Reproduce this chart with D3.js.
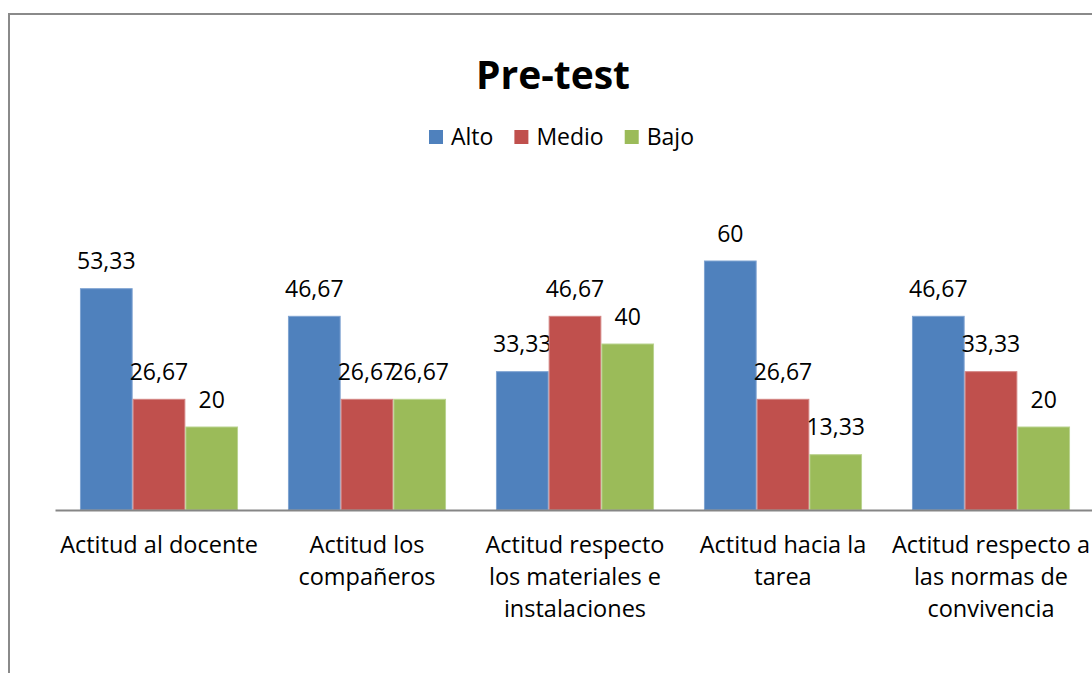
<!DOCTYPE html>
<html>
<head>
<meta charset="utf-8">
<script src="https://cdn.jsdelivr.net/npm/d3@7"></script>
<style>
  body { margin: 0; background: #fff; }
  text { font-family: "Open Sans", sans-serif; fill: #000; }
</style>
</head>
<body>
<script>
// data
var categories = ["Actitud al docente", "Actitud los compañeros", "Actitud respecto los materiales e instalaciones", "Actitud hacia la tarea", "Actitud respecto a las normas de convivencia"];
var tickLines = [
	["Actitud al docente"],
	["Actitud los", "compañeros"],
	["Actitud respecto", "los materiales e", "instalaciones"],
	["Actitud hacia la", "tarea"],
	["Actitud respecto a", "las normas de", "convivencia"]
];
var seriesNames = ["Alto", "Medio", "Bajo"];
var alto = [53.33, 46.67, 33.33, 60, 46.67];
var medio = [26.67, 26.67, 46.67, 26.67, 33.33];
var bajo = [20, 26.67, 40, 13.33, 20];
var colors = ["#4F81BD", "#C0504D", "#9BBB59"];
var edges = ["#7fa3d1", "#d48482", "#bad38f"];

var width = 1092, height = 673;
var series = [alto, medio, bajo];

var svg = d3.select("body").append("svg")
	.attr("width", width)
	.attr("height", height);

// chart border (runs off the right and bottom)
svg.append("rect")
	.attr("x", 9).attr("y", 14)
	.attr("width", 1200).attr("height", 800)
	.attr("fill", "none")
	.attr("stroke", "#8a8a8a")
	.attr("stroke-width", 2);

// scales
var x0 = d3.scaleBand()
	.domain(categories)
	.range([55, 1095])
	.paddingInner(0.24)
	.paddingOuter(0.12);

var x1 = d3.scaleBand()
	.domain(seriesNames)
	.range([0, x0.bandwidth()]);

var y = d3.scaleLinear().domain([0, 70]).range([510, 219.5]);

// bars
var groups = svg.selectAll("g.cat")
	.data(categories)
	.enter().append("g")
	.attr("class", "cat")
	.attr("transform", function(d) { return "translate(" + x0(d) + ",0)"; });

groups.each(function(cat, ci) {
	var g = d3.select(this);
	seriesNames.forEach(function(s, si) {
		var v = series[si][ci];
		g.append("rect")
			.attr("x", x1(s) + 0.5)
			.attr("y", y(v))
			.attr("width", x1.bandwidth() - 1)
			.attr("height", y(0) - y(v))
			.attr("fill", colors[si])
			.attr("stroke", edges[si])
			.attr("stroke-width", 1);
		g.append("text")
			.attr("x", x1(s) + x1.bandwidth() / 2)
			.attr("y", y(v) - 19.5)
			.attr("text-anchor", "middle")
			.attr("font-size", 23)
			.text(String(v).replace(".", ","));
	});
});

// x axis
var xAxis = svg.append("g")
	.attr("transform", "translate(0," + y(0) + ")")
	.call(d3.axisBottom(x0).tickSize(0).tickFormat(""));
xAxis.select(".domain").attr("stroke", "#868686").attr("stroke-width", 2);

// category labels, wrapped like the original
categories.forEach(function(c, i) {
	var t = svg.append("text")
		.attr("text-anchor", "middle")
		.attr("font-size", 23.5);
	tickLines[i].forEach(function(line, li) {
		t.append("tspan")
			.attr("x", x0(c) + x0.bandwidth() / 2)
			.attr("y", 553 + li * 32)
			.text(line);
	});
});

// title
svg.append("text")
	.attr("x", 553)
	.attr("y", 89)
	.attr("text-anchor", "middle")
	.attr("font-size", 39)
	.attr("font-weight", "bold")
	.text("Pre-test");

// legend
var legend = svg.append("g");
var lx = 0;
seriesNames.forEach(function(s, i) {
	legend.append("rect")
		.attr("x", lx).attr("y", 130)
		.attr("width", 14).attr("height", 14)
		.attr("fill", colors[i]);
	var t = legend.append("text")
		.attr("x", lx + 22)
		.attr("y", 145)
		.attr("font-size", 23)
		.text(s);
	lx += 22 + t.node().getComputedTextLength() + 21;
});
var lw = lx - 21;
legend.attr("transform", "translate(" + (561.5 - lw / 2) + ",0)");
</script>
</body>
</html>
